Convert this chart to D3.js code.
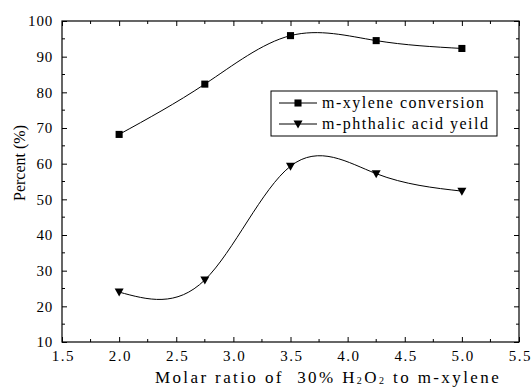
<!DOCTYPE html>
<html>
<head>
<meta charset="utf-8">
<script src="https://cdn.jsdelivr.net/npm/d3@7"></script>
<style>
  body { margin: 0; background: #fff; }
  .axis path, .axis line { stroke: #000; }
  text { white-space: pre; }
</style>
</head>
<body>
<svg width="532" height="387"></svg>
<script>
// data
const ratios = [2.0, 2.75, 3.5, 4.25, 5.0];
const conversion = [68.2, 82.3, 95.9, 94.5, 92.3];
const yieldPct = [24.0, 27.4, 59.3, 57.2, 52.3];
const xTicks = [1.5, 2.0, 2.5, 3.0, 3.5, 4.0, 4.5, 5.0, 5.5];
const yTicks = [10, 20, 30, 40, 50, 60, 70, 80, 90, 100];
const seriesNames = ["m-xylene conversion", "m-phthalic acid yeild"];

const FONT = "Liberation Serif";
const svg = d3.select("svg");
const plotL = 62, plotR = 519, plotT = 21, plotB = 342;

const x = d3.scaleLinear().domain([1.5, 5.5]).range([plotL, plotR]);
const y = d3.scaleLinear().domain([10, 100]).range([plotB, plotT]);

const minorX = d3.range(1.75, 5.5, 0.5);
const minorY = d3.range(15, 100, 10);

// frame
svg.append("rect")
  .attr("x", plotL).attr("y", plotT)
  .attr("width", plotR - plotL).attr("height", plotB - plotT)
  .attr("fill", "none").attr("stroke", "#000").attr("stroke-width", 1.2);

// bottom axis
const gx = svg.append("g").attr("class", "axis")
  .attr("transform", `translate(0,${plotB})`)
  .call(d3.axisBottom(x).tickValues(xTicks).tickFormat(d3.format(".1f"))
    .tickSize(-5).tickSizeOuter(0).tickPadding(8));
gx.select(".domain").remove();
gx.selectAll("text").style("font-family", FONT).attr("font-size", 15)
  .attr("fill", "#000").attr("letter-spacing", 1.5).attr("dx", 0.75);

// left axis
const gy = svg.append("g").attr("class", "axis")
  .attr("transform", `translate(${plotL},0)`)
  .call(d3.axisLeft(y).tickValues(yTicks).tickSize(-5).tickSizeOuter(0).tickPadding(9));
gy.select(".domain").remove();
gy.selectAll("text").style("font-family", FONT).attr("font-size", 15)
  .attr("fill", "#000").attr("letter-spacing", 0.8);

// top and right ticks, no labels
const gt = svg.append("g").attr("class", "axis")
  .attr("transform", `translate(0,${plotT})`)
  .call(d3.axisTop(x).tickValues(xTicks).tickSize(-5).tickSizeOuter(0).tickFormat(""));
gt.select(".domain").remove();
const gr = svg.append("g").attr("class", "axis")
  .attr("transform", `translate(${plotR},0)`)
  .call(d3.axisRight(y).tickValues(yTicks).tickSize(-5).tickSizeOuter(0).tickFormat(""));
gr.select(".domain").remove();

// minor ticks
[[plotB, -3], [plotT, 3]].forEach(([yy, dy]) => {
  svg.selectAll(null).data(minorX).enter().append("line")
    .attr("x1", d => x(d)).attr("x2", d => x(d))
    .attr("y1", yy).attr("y2", yy + dy).attr("stroke", "#000");
});
[[plotL, 3], [plotR, -3]].forEach(([xx, dx]) => {
  svg.selectAll(null).data(minorY).enter().append("line")
    .attr("y1", d => y(d)).attr("y2", d => y(d))
    .attr("x1", xx).attr("x2", xx + dx).attr("stroke", "#000");
});

// axis titles
const xt = svg.append("text")
  .attr("x", 328).attr("y", 383)
  .attr("text-anchor", "middle").attr("font-size", 17).attr("letter-spacing", 2.4)
  .style("font-family", FONT);
xt.append("tspan").text("Molar ratio of  30% H");
xt.append("tspan").attr("font-size", 10).attr("dy", 1).text("2");
xt.append("tspan").attr("dy", -1).text("O");
xt.append("tspan").attr("font-size", 10).attr("dy", 1).text("2");
xt.append("tspan").attr("dy", -1).text(" to m-xylene");

svg.append("text")
  .attr("transform", "translate(25,163) rotate(-90)")
  .attr("text-anchor", "middle").attr("font-size", 16)
  .style("font-family", FONT)
  .text("Percent (%)");

// series
const line = d3.line().x(d => x(d[0])).y(d => y(d[1])).curve(d3.curveNatural);
const convPts = ratios.map((r, i) => [r, conversion[i]]);
const yieldPts = ratios.map((r, i) => [r, yieldPct[i]]);

svg.append("path").datum(convPts).attr("d", line)
  .attr("fill", "none").attr("stroke", "#000").attr("stroke-width", 1);
svg.append("path").datum(yieldPts).attr("d", line)
  .attr("fill", "none").attr("stroke", "#000").attr("stroke-width", 1);

const square = d3.symbol().type(d3.symbolSquare).size(50);
const tri = "M-4.5,-3.5L4.5,-3.5L0,4.5Z";

svg.selectAll("path.sq").data(convPts).enter().append("path")
  .attr("class", "sq").attr("d", square)
  .attr("transform", d => `translate(${x(d[0])},${y(d[1])})`);
svg.selectAll("path.tri").data(yieldPts).enter().append("path")
  .attr("class", "tri").attr("d", tri)
  .attr("transform", d => `translate(${x(d[0])},${y(d[1])})`);

// legend
const lg = svg.append("g").attr("transform", "translate(271,91)");
lg.append("rect").attr("width", 226).attr("height", 45)
  .attr("fill", "#fff").attr("stroke", "#000").attr("stroke-width", 1);
seriesNames.forEach((name, i) => {
  const cy = 12 + i * 21;
  lg.append("line").attr("x1", 8).attr("x2", 46).attr("y1", cy).attr("y2", cy)
    .attr("stroke", "#000");
  lg.append("path").attr("d", i === 0 ? square : tri)
    .attr("transform", `translate(27,${cy})`);
  lg.append("text").attr("x", 51).attr("y", cy + 5)
    .style("font-family", FONT)
    .attr("font-size", 16).attr("letter-spacing", 1.5).text(name);
});
</script>
</body>
</html>
